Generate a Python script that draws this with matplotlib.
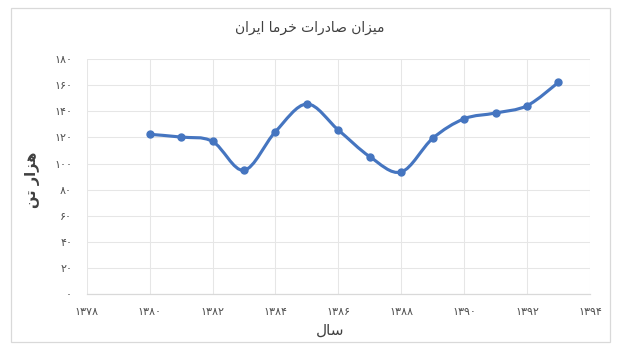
import numpy as np
import matplotlib
matplotlib.use('Agg')
import matplotlib.pyplot as plt
from matplotlib.path import Path
from matplotlib.patches import PathPatch, Rectangle
from matplotlib.ticker import FuncFormatter

# data (thousand tonnes of dates exported, by Persian year)
years = [1380, 1381, 1382, 1383, 1384, 1385, 1386, 1387, 1388, 1389, 1390, 1391, 1392, 1393]
exports = [122.4, 120.3, 117.0, 94.9, 124.4, 145.6, 125.7, 105.3, 93.6, 119.3, 134.3, 138.7, 144.3, 162.2]

title = 'میزان صادرات خرما ایران'
ylabel = 'هزار تن'
xlabel = 'سال'

plt.rcParams['font.family'] = ['DejaVu Sans']

# matplotlib does no arabic shaping, so map letters to presentation forms
FORMS = {  # isolated, final, initial, medial
    'ا': ('\uFE8D', '\uFE8E', None, None),
    'ت': ('\uFE95', '\uFE96', '\uFE97', '\uFE98'),
    'خ': ('\uFEA5', '\uFEA6', '\uFEA7', '\uFEA8'),
    'د': ('\uFEA9', '\uFEAA', None, None),
    'ر': ('\uFEAD', '\uFEAE', None, None),
    'ز': ('\uFEAF', '\uFEB0', None, None),
    'س': ('\uFEB1', '\uFEB2', '\uFEB3', '\uFEB4'),
    'ص': ('\uFEB9', '\uFEBA', '\uFEBB', '\uFEBC'),
    'ل': ('\uFEDD', '\uFEDE', '\uFEDF', '\uFEE0'),
    'م': ('\uFEE1', '\uFEE2', '\uFEE3', '\uFEE4'),
    'ن': ('\uFEE5', '\uFEE6', '\uFEE7', '\uFEE8'),
    'ه': ('\uFEE9', '\uFEEA', '\uFEEB', '\uFEEC'),
    'ی': ('\uFBFC', '\uFBFD', '\uFBFE', '\uFBFF'),
}


def shape(text):
    out = []
    for i, ch in enumerate(text):
        if ch not in FORMS:
            out.append(ch)
            continue
        f = FORMS[ch]
        prev = text[i - 1] if i > 0 else ''
        nxt = text[i + 1] if i + 1 < len(text) else ''
        join_prev = prev in FORMS and FORMS[prev][2] is not None
        join_next = f[2] is not None and nxt in FORMS
        if join_prev and join_next:
            out.append(f[3])
        elif join_prev:
            out.append(f[1])
        elif join_next:
            out.append(f[2])
        else:
            out.append(f[0])
    return ''.join(reversed(out))


def fa_digits(v, pos=None):
    return str(int(round(v))).translate(str.maketrans('0123456789', '۰۱۲۳۴۵۶۷۸۹'))


# smooth line like excel (catmull-rom as bezier segments)
x = np.array(years, dtype=float)
y = np.array(exports, dtype=float)
verts = [(x[0], y[0])]
codes = [Path.MOVETO]
for i in range(len(x) - 1):
    p0 = i - 1 if i > 0 else i
    p3 = i + 2 if i + 2 < len(x) else i + 1
    c1 = (x[i] + (x[i + 1] - x[p0]) / 6, y[i] + (y[i + 1] - y[p0]) / 6)
    c2 = (x[i + 1] - (x[p3] - x[i]) / 6, y[i + 1] - (y[p3] - y[i]) / 6)
    verts += [c1, c2, (x[i + 1], y[i + 1])]
    codes += [Path.CURVE4] * 3

fig = plt.figure(figsize=(6.21, 3.6), dpi=100)
ax = fig.add_axes([0.1396, 0.1825, 0.8104, 0.6535])

line_color = '#4575C0'
grid_color = '#E6E6E6'
text_color = '#404040'

ax.add_patch(PathPatch(Path(verts, codes), facecolor='none', edgecolor=line_color,
                       lw=2.25, capstyle='round', joinstyle='round', zorder=3))
ax.plot(years, exports, 'o', color=line_color, markersize=5, zorder=4)

ax.set_xlim(1378, 1394)
ax.set_ylim(0, 180)
ax.set_xticks(range(1378, 1395, 2))
ax.set_yticks(range(0, 181, 20))
ax.xaxis.set_major_formatter(FuncFormatter(fa_digits))
ax.yaxis.set_major_formatter(FuncFormatter(fa_digits))
ax.tick_params(length=0, labelsize=8, colors='#505050')
ax.tick_params(axis='y', pad=10.5)
ax.tick_params(axis='x', pad=9)
ax.grid(True, color=grid_color, lw=0.75)
ax.set_axisbelow(True)
for s in ['top', 'right', 'left']:
    ax.spines[s].set_visible(False)
ax.spines['bottom'].set_color('#D9D9D9')
ax.spines['bottom'].set_linewidth(0.9)

fig.text(310 / 621, 1 - 28 / 360, shape(title), ha='center', va='center', fontsize=10, color=text_color)
fig.text(32 / 621, 1 - 180 / 360, shape(ylabel), ha='center', va='center', rotation=90,
         fontsize=10.5, fontweight='bold', color=text_color)
fig.text(330 / 621, 1 - 330 / 360, shape(xlabel), ha='center', va='center', fontsize=11, color=text_color)

fig.patches.append(Rectangle((11 / 621, 1 - 342 / 360), 599 / 621, 334 / 360, transform=fig.transFigure,
                             fill=False, edgecolor='#D9D9D9', lw=0.9))

fig.savefig('out.png', dpi=100)
